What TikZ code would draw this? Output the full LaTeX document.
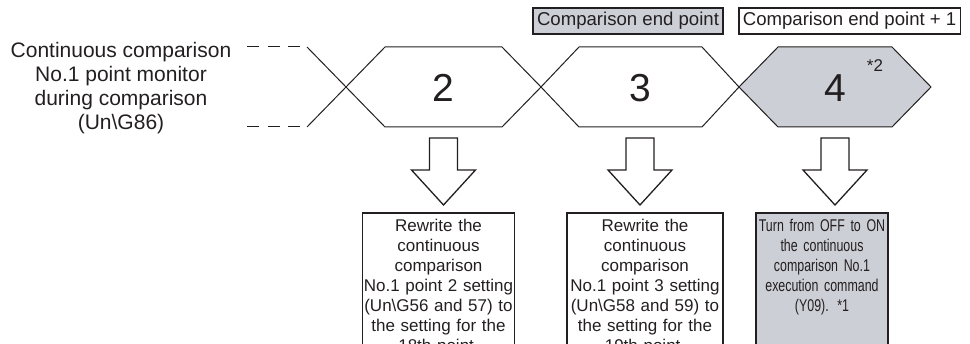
\documentclass[tikz,border=0pt]{standalone}
\usepackage{fontspec}
\setmainfont{Liberation Sans}
\newfontfamily\narrowsans[FakeStretch=0.73]{Liberation Sans}
\usetikzlibrary{positioning}
\definecolor{inkline}{RGB}{35,31,32}
\definecolor{shade}{RGB}{205,207,214}

\tikzset{
  downarrow/.pic={\draw[bigarrow] (-14,0) -- (-14,32) -- (-32,32) -- (0,67)
                  -- (32,32) -- (14,32) -- (14,0) -- cycle;}
}

\begin{document}
\begin{tikzpicture}[x=1pt, y=-1pt,
  hexline/.style={draw=inkline, line width=1pt},
  num/.style={font=\fontsize{39}{39}\selectfont, text=inkline},
  tag/.style={draw=inkline, line width=1.5pt, inner xsep=4pt, inner ysep=0pt,
              minimum height=26pt, font=\fontsize{18.6}{20}\selectfont, text=inkline},
  stepbox/.style={draw=inkline, line width=1.8pt, anchor=north, align=center,
                  inner xsep=0pt, inner ysep=6.5pt, text depth=160pt,
                  font=\fontsize{17}{20}\selectfont, text=inkline},
  bigarrow/.style={draw=inkline, line width=1.3pt, fill=white, line join=miter}
]
  \useasboundingbox (0,0) rectangle (970,344);
  \clip (0,0) rectangle (970,344);

  % signal name
  \node[align=center, font=\fontsize{21}{24}\selectfont, text=inkline] (mon) at (121,88)
    {Continuous comparison\\No.1 point monitor\\during comparison\\(Un\textbackslash G86)};
  \draw[hexline, dash pattern=on 12pt off 8.5pt] (247,47) -- (300,47);
  \draw[hexline, dash pattern=on 12pt off 8.5pt] (247,127) -- (300,127);

  % data values
  \draw[hexline] (307,47) -- (346,87) -- (307,127);
  \draw[hexline] (346,87) -- (385,47) -- (502,47) -- (541,87) -- (502,127) -- (385,127) -- cycle;
  \draw[hexline] (541,87) -- (579,47) -- (702,47) -- (739,87) -- (702,127) -- (579,127) -- cycle;
  \draw[hexline, fill=shade] (739,87) -- (778,47) -- (892,47) -- (931,87) -- (892,127) -- (778,127) -- cycle;
  \node[num] (n2) at (443.5,88) {2};
  \node[num] (n3) at (640,88) {3};
  \node[num] (n4) at (835,88) {4};
  \node[font=\fontsize{17}{17}\selectfont, text=inkline] (star) at (875,66) {*2};

  % point labels
  \node[tag, fill=shade, line width=2.2pt] (endpt) at (628,21) {Comparison end point};
  \node[tag, right=14pt of endpt] (endpt1) {Comparison end point + 1};

  % arrows
  \pic at (n2 |- 0,138) {downarrow};
  \pic at (n3 |- 0,138) {downarrow};
  \pic at (n4 |- 0,138) {downarrow};

  % actions
  \node[stepbox, text width=152pt] (act2) at (438.5,212)
    {Rewrite the\\continuous\\comparison\\No.1 point 2 setting\\(Un\textbackslash G56 and 57) to\\the setting for the\\18th point.};
  \node[stepbox, text width=156pt] (act3) at (645,212)
    {Rewrite the\\continuous\\comparison\\No.1 point 3 setting\\(Un\textbackslash G58 and 59) to\\the setting for the\\19th point.};
  \node[stepbox, fill=shade, line width=2.2pt, text width=132pt,
        font=\narrowsans\fontsize{17}{20}\selectfont] (act4) at (822,212)
    {Turn from OFF to ON\\the continuous\\comparison No.1\\execution command\\(Y09). *1};
\end{tikzpicture}
\end{document}
